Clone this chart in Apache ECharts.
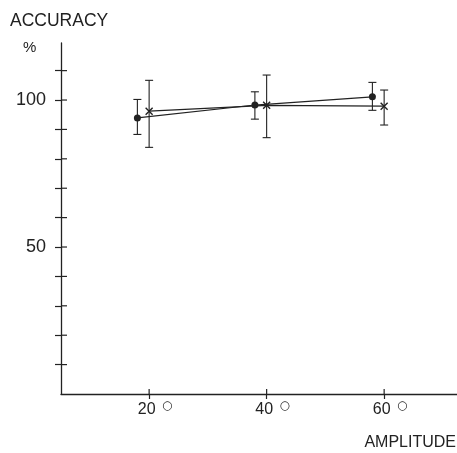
<!DOCTYPE html>
<html>
<head>
<meta charset="utf-8">
<script src="https://cdn.jsdelivr.net/npm/echarts@6/dist/echarts.min.js"></script>
<style>html,body{margin:0;padding:0;background:#fff}#c{width:457px;height:453px}</style>
</head>
<body>
<div id="c"></div>
<script>
// ---- data ----
const xDot = [18, 38, 58];
const dotMean = [93.9, 98.3, 101.1];
const dotLow = [88.3, 93.5, 96.5];
const dotHigh = [100.2, 102.8, 106.0];

const xCross = [20, 40, 60];
const crossMean = [96.2, 98.2, 97.9];
const crossLow = [83.9, 87.2, 91.5];
const crossHigh = [106.7, 108.5, 103.4];

const yTickValues = [10, 20, 30, 40, 50, 60, 70, 80, 90, 100, 110];
const yLabelValues = [50, 100];
const xTickValues = [20, 40, 60];

const titleY = 'ACCURACY';
const unitY = '%';
const titleX = 'AMPLITUDE';
const degreeMark = '○';

// ---- chart ----
const INK = '#222';
const FONT = '"Liberation Sans", Arial, Helvetica, sans-serif';
const X_MIN = 5, X_MAX = 72.4, Y_MIN = 0, Y_MAX = 119.4;
const chart = echarts.init(document.getElementById('c'), null, {renderer: 'canvas'});

function errorBars(xs, lo, hi) {
  return {
    type: 'custom',
    silent: true,
    xAxisIndex: 0, yAxisIndex: 0,
    data: xs.map((x, i) => [x, lo[i], hi[i]]),
    encode: {x: 0, y: [1, 2]},
    renderItem: function (params, api) {
      const x = api.value(0);
      const p1 = api.coord([x, api.value(1)]);
      const p2 = api.coord([x, api.value(2)]);
      const w = 4;
      const st = {stroke: INK, lineWidth: 1.1};
      return {
        type: 'group',
        children: [
          {type: 'line', shape: {x1: p1[0], y1: p1[1], x2: p2[0], y2: p2[1]}, style: st},
          {type: 'line', shape: {x1: p1[0] - w, y1: p1[1], x2: p1[0] + w, y2: p1[1]}, style: st},
          {type: 'line', shape: {x1: p2[0] - w, y1: p2[1], x2: p2[0] + w, y2: p2[1]}, style: st}
        ]
      };
    },
    z: 1
  };
}

// inner halves of the crossing tick marks (outer halves come from the axes)
function innerTicks(values, dim, len) {
  return {
    type: 'custom',
    silent: true,
    xAxisIndex: 0, yAxisIndex: 0,
    data: values.map(v => dim === 'y' ? [X_MIN, v] : [v, Y_MIN]),
    encode: {x: 0, y: 1},
    renderItem: function (params, api) {
      const p = api.coord([api.value(0), api.value(1)]);
      const shape = dim === 'y'
        ? {x1: p[0], y1: p[1], x2: p[0] + len, y2: p[1]}
        : {x1: p[0], y1: p[1], x2: p[0], y2: p[1] - len};
      return {type: 'line', shape: shape, style: {stroke: INK, lineWidth: 1.2}};
    },
    z: 5
  };
}

const gridBox = {left: 61, right: 0, top: 43, bottom: 59};

const option = {
  animation: false,
  backgroundColor: '#fff',
  grid: [Object.assign({}, gridBox), Object.assign({}, gridBox)],
  xAxis: [
    {
      gridIndex: 0,
      type: 'value', min: X_MIN, max: X_MAX, splitLine: {show: false},
      axisLine: {show: true, onZero: false, lineStyle: {color: INK, width: 1.3}},
      axisTick: {show: true, inside: false, length: 5, customValues: xTickValues, lineStyle: {color: INK, width: 1.2}},
      axisLabel: {
        show: true, customValues: xTickValues, margin: 8,
        fontFamily: FONT, fontSize: 16, lineHeight: 16, color: INK,
        padding: [0, 5, 0, 0]
      }
    },
    {
      // superscript degree rings next to the tick labels
      gridIndex: 1,
      type: 'value', min: X_MIN, max: X_MAX, position: 'bottom', splitLine: {show: false},
      axisLine: {show: false, onZero: false},
      axisTick: {show: false},
      axisLabel: {
        show: true, customValues: xTickValues, margin: 6,
        formatter: () => degreeMark,
        fontFamily: '"DejaVu Sans", sans-serif', fontSize: 12, lineHeight: 12, color: INK,
        padding: [0, 0, 0, 36]
      }
    }
  ],
  yAxis: [
    {
      gridIndex: 0,
      type: 'value', min: Y_MIN, max: Y_MAX, splitLine: {show: false},
      axisLine: {show: true, onZero: false, lineStyle: {color: INK, width: 1.3}},
      axisTick: {show: true, inside: false, length: 6, customValues: yTickValues, lineStyle: {color: INK, width: 1.2}},
      axisLabel: {
        show: true, customValues: yLabelValues, margin: 15,
        fontFamily: FONT, fontSize: 18, color: INK
      }
    },
    {
      gridIndex: 1, show: false,
      type: 'value', min: Y_MIN, max: Y_MAX, position: 'left'
    }
  ],
  graphic: [
    {type: 'text', left: 10, top: 12, style: {text: titleY, font: '17.5px ' + FONT, fill: INK}},
    {type: 'text', left: 23, top: 40, style: {text: unitY, font: '15px ' + FONT, fill: INK}},
    {type: 'text', right: 1, top: 435, style: {text: titleX, font: '16px ' + FONT, fill: INK}}
  ],
  series: [
    innerTicks(yTickValues, 'y', 6),
    innerTicks(xTickValues, 'x', 5),
    errorBars(xDot, dotLow, dotHigh),
    errorBars(xCross, crossLow, crossHigh),
    {
      type: 'line', xAxisIndex: 0, yAxisIndex: 0,
      data: xDot.map((x, i) => [x, dotMean[i]]),
      symbol: 'circle', symbolSize: 7,
      itemStyle: {color: INK},
      lineStyle: {color: INK, width: 1.2},
      silent: true, z: 3
    },
    {
      type: 'line', xAxisIndex: 0, yAxisIndex: 0,
      data: xCross.map((x, i) => [x, crossMean[i]]),
      symbol: 'path://M0,0L10,10M10,0L0,10', symbolSize: 7,
      itemStyle: {color: 'none', borderColor: INK, borderWidth: 1.4},
      lineStyle: {color: INK, width: 1.2},
      silent: true, z: 3
    },
    {type: 'line', xAxisIndex: 1, yAxisIndex: 1, data: [], silent: true}
  ]
};
chart.setOption(option);
</script>
</body>
</html>
